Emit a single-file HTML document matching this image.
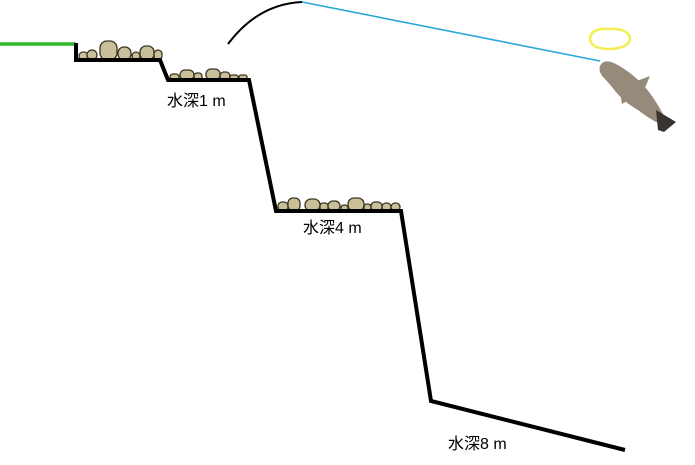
<!DOCTYPE html>
<html><head><meta charset="utf-8"><style>
html,body{margin:0;padding:0;background:#fff;width:695px;height:465px;overflow:hidden}
text{font-family:"Liberation Sans","Noto Sans CJK JP",sans-serif;font-size:16px;fill:#000}
</style></head><body>
<svg width="695" height="465" viewBox="0 0 695 465" xmlns="http://www.w3.org/2000/svg">
<g fill="#c9c09a" stroke="#3a3520" stroke-width="1.3">
<rect x="79" y="52" width="9" height="8" rx="4"/>
<rect x="87" y="50" width="10" height="10" rx="5"/>
<rect x="100" y="41" width="17" height="19" rx="7"/>
<rect x="118" y="47" width="13" height="13" rx="6"/>
<rect x="132" y="52" width="8" height="8" rx="4"/>
<rect x="140" y="46" width="14" height="14" rx="6"/>
<rect x="154" y="50" width="8" height="10" rx="4"/>
<rect x="170" y="74" width="9" height="6" rx="3"/>
<rect x="180" y="70" width="14" height="10" rx="5"/>
<rect x="194" y="73" width="8" height="7" rx="3"/>
<rect x="206" y="69" width="14" height="11" rx="5"/>
<rect x="220" y="72" width="10" height="8" rx="4"/>
<rect x="230" y="75" width="8" height="5" rx="2"/>
<rect x="239" y="75" width="8" height="5" rx="2"/>
<rect x="278" y="202" width="10" height="9" rx="4"/>
<rect x="288" y="198" width="12" height="13" rx="5"/>
<rect x="305" y="199" width="15" height="12" rx="6"/>
<rect x="320" y="203" width="8" height="8" rx="3"/>
<rect x="328" y="201" width="12" height="10" rx="5"/>
<rect x="341" y="205" width="7" height="6" rx="3"/>
<rect x="348" y="198" width="16" height="13" rx="6"/>
<rect x="364" y="204" width="7" height="7" rx="3"/>
<rect x="371" y="202" width="11" height="9" rx="4"/>
<rect x="382" y="203" width="9" height="8" rx="4"/>
<rect x="391" y="203" width="9" height="8" rx="4"/>
</g>
<line x1="0" y1="44" x2="76" y2="44" stroke="#2fb82a" stroke-width="3.5"/>
<polyline points="76,43 76,60 160,60 168,80 249,80 276,211 401,211 431,401 625,450" fill="none" stroke="#000" stroke-width="4" stroke-linejoin="miter"/>
<path d="M228,44 Q258,4 302,2" fill="none" stroke="#000" stroke-width="2"/>
<line x1="302" y1="2" x2="600" y2="61" stroke="#28a8d8" stroke-width="1.6"/>
<path d="M590,38 Q592,28 608,29 Q628,28 630,38 Q630,48 610,49 Q590,49 590,38 Z" fill="none" stroke="#f4ee50" stroke-width="2.5"/>
<g fill="#968a7a">
<path d="M600,66 Q604,58 616,64 Q638,76 652,96 Q660,108 664,116 L660,124 Q648,118 638,110 Q624,102 616,92 Q608,82 604,78 Q598,72 600,66 Z"/>
<path d="M656,110 L676,122 L664,132 L658,130 Z" fill="#3a3430"/>
<path d="M634,82 L650,76 L644,90 Z"/>
<path d="M620,92 L622,104 L632,98 Z"/>
</g>
<text x="167" y="106">水深1 m</text>
<text x="303" y="233">水深4 m</text>
<text x="448" y="449">水深8 m</text>
</svg>
</body></html>
